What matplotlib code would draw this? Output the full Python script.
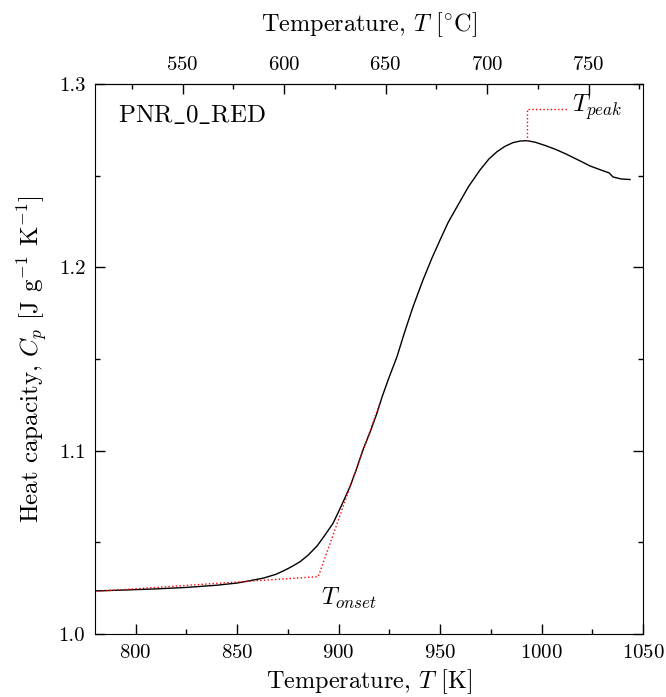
import matplotlib
matplotlib.use("Agg")
import matplotlib.pyplot as plt
from matplotlib.ticker import MultipleLocator, FixedLocator, FormatStrFormatter

# Computer Modern look
plt.rcParams["font.family"] = "serif"
plt.rcParams["font.serif"] = ["cmr10"]
plt.rcParams["mathtext.fontset"] = "cm"
plt.rcParams["axes.formatter.use_mathtext"] = True
plt.rcParams["axes.unicode_minus"] = False

temp_K = [780.0, 795.0, 810.0, 825.0, 840.0, 850.0, 856.0, 863.0, 869.0, 873.0,
          877.0, 881.0, 885.0, 889.4, 893.0, 897.3, 901.0, 905.6, 909.0, 912.0,
          915.5, 918.9, 921.5, 924.4, 928.8, 932.5, 936.7, 941.6, 946.0, 950.0,
          954.0, 958.4, 964.0, 969.7, 974.0, 978.1, 982.0, 985.9, 989.5, 992.9,
          997.0, 1001.7, 1007.0, 1012.1, 1018.0, 1023.9, 1029.0, 1033.3, 1035.2, 1039.2,
          1043.6]
cp = [1.0235, 1.0240, 1.0246, 1.0254, 1.0266, 1.0278, 1.0290, 1.0305, 1.0325, 1.0345,
      1.0368, 1.0394, 1.0430, 1.0480, 1.0535, 1.0604, 1.0690, 1.0803, 1.0905, 1.1004,
      1.1100, 1.1204, 1.1295, 1.1385, 1.1513, 1.1645, 1.1785, 1.1931, 1.2050, 1.2149,
      1.2245, 1.2331, 1.2440, 1.2531, 1.2590, 1.2631, 1.2660, 1.2680, 1.2689, 1.2691,
      1.2682, 1.2665, 1.2643, 1.2618, 1.2586, 1.2553, 1.2532, 1.2515, 1.2493, 1.2482,
      1.2479]

# onset construction (baseline + tangent)
onset_K = [780.0, 890.0, 920.4]
onset_cp = [1.0232, 1.0313, 1.1260]

# peak marker
peak_K = [992.9, 992.9, 1013.0]
peak_cp = [1.2691, 1.2864, 1.2864]

# top axis ticks in degC
top_major_C = [550, 600, 650, 700, 750]
top_minor_C = [525, 575, 625, 675, 725, 775]

fig = plt.figure(figsize=(6.66, 6.97), dpi=100)
ax = fig.add_axes([95 / 666, 63 / 697, 548 / 666, 550 / 697])

ax.plot(temp_K, cp, color="black", lw=1.0)
ax.plot(onset_K, onset_cp, color="red", lw=1.0, ls=":")
ax.plot(peak_K, peak_cp, color="red", lw=1.0, ls=":")

ax.text(891.4, 1.0196, r"$T_{onset}$", fontsize=17.5, ha="left", va="center")
ax.text(1015.0, 1.2875, r"$T_{peak}$", fontsize=17.5, ha="left", va="center")
ax.text(791.3, 1.2826, r"PNR$\_$0$\_$RED", fontsize=18, ha="left", va="center")

ax.set_xlim(780, 1050)
ax.set_ylim(1.0, 1.3)
ax.xaxis.set_major_locator(MultipleLocator(50))
ax.xaxis.set_minor_locator(MultipleLocator(25))
ax.yaxis.set_major_locator(MultipleLocator(0.1))
ax.yaxis.set_minor_locator(MultipleLocator(0.05))
ax.yaxis.set_major_formatter(FormatStrFormatter("%.1f"))
ax.tick_params(which="both", direction="in", top=False, right=True, labelsize=15, pad=7)
ax.tick_params(which="major", length=7.5, width=1)
ax.tick_params(which="minor", length=3.5, width=1)

ax.set_xlabel(r"Temperature, $T$ [K]", fontsize=17.5, labelpad=4)
ax.set_ylabel(r"Heat capacity, $C_p$ [J g$^{\mathrm{-1}}$ K$^{\mathrm{-1}}$]", fontsize=18, labelpad=6)

top = ax.secondary_xaxis("top", functions=(lambda k: k - 273.15, lambda c: c + 273.15))
top.xaxis.set_major_locator(FixedLocator(top_major_C))
top.xaxis.set_minor_locator(FixedLocator(top_minor_C))
top.tick_params(which="both", direction="in", labelsize=15, pad=7)
top.tick_params(which="major", length=7.5, width=1)
top.tick_params(which="minor", length=3.5, width=1)
top.set_xlabel(r"Temperature, $T$ [$^{\circ}$C]", fontsize=17.5, labelpad=18)

fig.savefig("out.png", dpi=100)
